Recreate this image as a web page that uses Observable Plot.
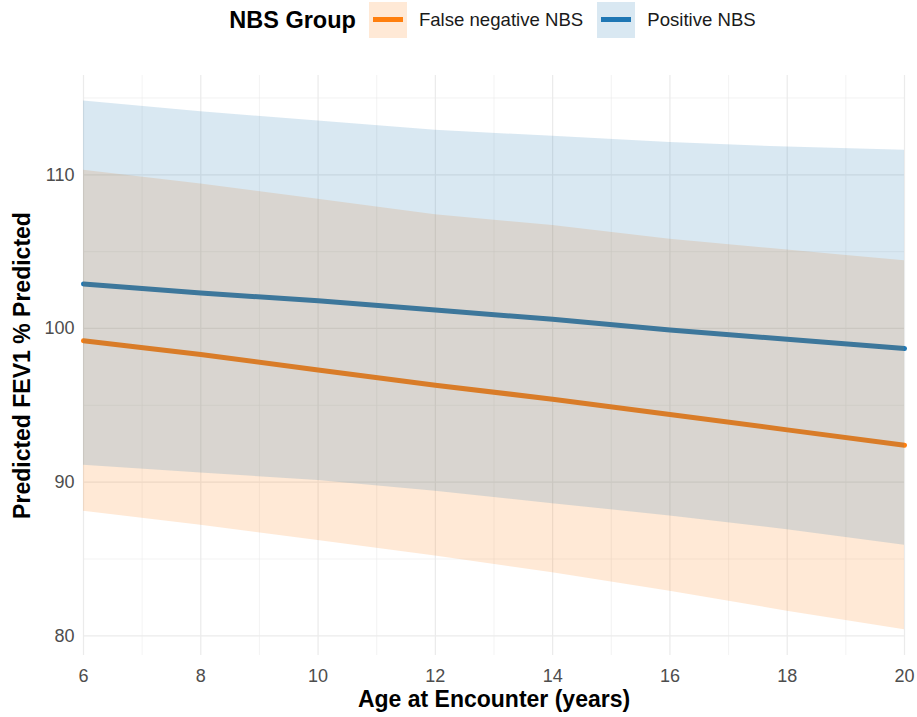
<!DOCTYPE html>
<html>
<head>
<meta charset="utf-8">
<script src="https://cdn.jsdelivr.net/npm/d3@7"></script>
<script src="https://cdn.jsdelivr.net/npm/@observablehq/plot@0.6"></script>
<style>
  body { margin: 0; background: #fff; font-family: "Liberation Sans", Arial, sans-serif; }
  #legend { height: 40px; box-sizing: border-box; padding-left: 95px; padding-right: 13px;
    display: flex; justify-content: center; align-items: center; }
  #legend .title { font-weight: bold; font-size: 23.5px; margin-right: 13px; color: #000; }
  #legend .key { flex: 0 0 38px; width: 38px; height: 36px; position: relative; margin-right: 12px; }
  #legend .key span { position: absolute; left: 4px; right: 4px; top: 15px; height: 5px; }
  #legend .lab { font-size: 18.6px; margin-right: 14px; color: #1a1a1a; }
</style>
</head>
<body>
<div id="legend"></div>
<div id="chart"></div>
<script>
const groups = ["False negative NBS", "Positive NBS"];
const colors = ["#FF7F0E", "#1F77B4"];
const ages = [6, 8, 10, 12, 14, 16, 18, 20];
const posFit  = [102.9, 102.3, 101.8, 101.2, 100.6, 99.9, 99.3, 98.7];
const posLow  = [91.1, 90.6, 90.1, 89.4, 88.6, 87.8, 86.9, 85.9];
const posHigh = [114.8, 114.1, 113.5, 112.9, 112.5, 112.1, 111.8, 111.6];
const fnFit   = [99.2, 98.3, 97.3, 96.3, 95.4, 94.4, 93.4, 92.4];
const fnLow   = [88.1, 87.2, 86.2, 85.2, 84.1, 82.9, 81.6, 80.4];
const fnHigh  = [110.3, 109.4, 108.4, 107.4, 106.7, 105.8, 105.1, 104.4];
const xTicks = [6, 8, 10, 12, 14, 16, 18, 20];
const xMinor = [7, 9, 11, 13, 15, 17, 19];
const yTicks = [80, 90, 100, 110];
const yMinor = [85, 95, 105, 115];

const series = {
  "False negative NBS": {fit: fnFit, low: fnLow, high: fnHigh},
  "Positive NBS": {fit: posFit, low: posLow, high: posHigh}
};
const rows = groups.flatMap(g => ages.map((a, i) => ({
  group: g, age: a, fit: series[g].fit[i], low: series[g].low[i], high: series[g].high[i]
})));

const alpha = 0.17;
// legend
const leg = document.getElementById("legend");
leg.innerHTML = `<span class="title">NBS Group</span>` + groups.map((g, i) =>
  `<span class="key" style="background:${d3.color(colors[i]).copy({opacity: alpha})}"><span style="background:${colors[i]}"></span></span><span class="lab">${g}</span>`
).join("");

const color = {domain: groups, range: colors};
const plot = Plot.plot({
  width: 917,
  height: 677,
  marginTop: 35,
  marginBottom: 62,
  marginLeft: 83,
  marginRight: 13,
  style: {fontFamily: "'Liberation Sans', Arial, sans-serif", background: "#fff"},
  x: {domain: [6, 20], label: null},
  y: {domain: [78.72, 116.46], label: null},
  color,
  marks: [
    Plot.gridX(xMinor, {stroke: "#EBEBEB", strokeOpacity: 1, strokeWidth: 0.6}),
    Plot.gridY(yMinor, {stroke: "#EBEBEB", strokeOpacity: 1, strokeWidth: 0.6}),
    Plot.gridX(xTicks, {stroke: "#EBEBEB", strokeOpacity: 1, strokeWidth: 1.2}),
    Plot.gridY(yTicks, {stroke: "#EBEBEB", strokeOpacity: 1, strokeWidth: 1.2}),
    Plot.lineY(rows, {x: "age", y: "fit", z: "group", stroke: "group", strokeWidth: 5}),
    Plot.areaY(rows, {x: "age", y1: "low", y2: "high", z: "group", fill: "group", fillOpacity: alpha}),
    Plot.axisX(xTicks, {tickSize: 0, tickPadding: 14, fontSize: 18, fill: "#4D4D4D", label: null}),
    Plot.axisY(yTicks, {tickSize: 0, tickPadding: 9, fontSize: 18, fill: "#4D4D4D", label: null}),
    Plot.text(["Age at Encounter (years)"], {frameAnchor: "bottom", dy: 51, fontSize: 23, fontWeight: "bold", fill: "#000"}),
    Plot.text(["Predicted FEV1 % Predicted"], {frameAnchor: "left", dx: -61, rotate: -90, textAnchor: "middle", fontSize: 23, fontWeight: "bold", fill: "#000"})
  ]
});
document.getElementById("chart").appendChild(plot);
</script>
</body>
</html>
